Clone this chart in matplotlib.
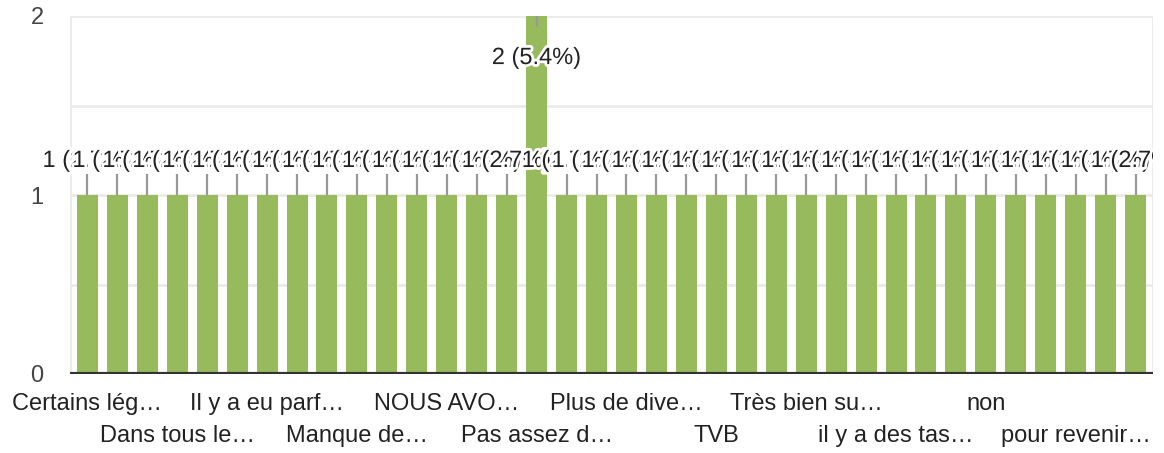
import matplotlib
matplotlib.use("Agg")
import matplotlib.pyplot as plt
import matplotlib.patheffects as pe
import numpy as np

plt.rcParams['font.family'] = ['Liberation Sans', 'DejaVu Sans']

# 36 answers (only every third label is readable in the reference)
categories = [
    "Certains lég…", "", "",
    "Dans tous le…", "", "",
    "Il y a eu parf…", "", "",
    "Manque de…", "", "",
    "NOUS AVO…", "", "",
    "Pas assez d…", "", "",
    "Plus de dive…", "", "",
    "TVB", "", "",
    "Très bien su…", "", "",
    "il y a des tas…", "", "",
    "non", "", "",
    "pour revenir…", "", "",
]
counts = [1] * 36
counts[15] = 2
yticks = [0, 1, 2]

total = sum(counts)
x = np.arange(len(counts))

fig = plt.figure(figsize=(11.64, 4.53), dpi=100)
ax = fig.add_axes([70/1164, 1 - 374/453, (1153-70)/1164, (374-16)/453])

bar_color = "#97BA5D"
ax.bar(x, counts, width=0.7, color=bar_color, zorder=2)

ax.set_xlim(-0.5 - 0.08, len(counts) - 0.5 + 0.08)
ax.set_ylim(0, 2)

# grid
for g in [0.5, 1, 1.5, 2]:
    ax.axhline(g, color="#ebebeb", lw=2, zorder=1)
ax.axvline(ax.get_xlim()[0], color="#ebebeb", lw=2, zorder=1)
ax.axvline(ax.get_xlim()[1], color="#ebebeb", lw=2, zorder=1)
ax.axhline(0, color="#333333", lw=3, zorder=4)

for s in ax.spines.values():
    s.set_visible(False)

ax.set_yticks(yticks)
ax.set_yticklabels([str(t) for t in yticks], fontsize=17, color="#444444")
ax.tick_params(axis='y', length=0, pad=19)
ax.set_xticks([])

# category labels (every third, alternating rows)
shown = [i for i, c in enumerate(categories) if c]
for k, i in enumerate(shown):
    row = k % 2
    ax.annotate(categories[i], xy=(x[i], 0), xycoords=('data', 'axes fraction'),
                xytext=(0, -30 - row * 32), textcoords='offset pixels',
                ha='center', va='center', fontsize=17, color="#222222",
                annotation_clip=False)

# value labels with leader lines
halo = [pe.withStroke(linewidth=4, foreground="white")]
clip_box = matplotlib.transforms.Bbox([[0, 0], [1153, 453]])
for i, v in enumerate(counts):
    pct = v / total * 100
    txt = f"{v} ({pct:.1f}%)"
    if v == max(counts):
        ax.plot([x[i], x[i]], [v, v - 0.06], color="#999999", lw=1.6, zorder=3,
                solid_capstyle='butt')
        ax.text(x[i], v - 0.235, txt, ha='center', va='center', fontsize=17,
                color="#222222", zorder=6, path_effects=halo)
    else:
        ax.plot([x[i], x[i]], [v, v + 0.12], color="#999999", lw=1.6, zorder=3,
                solid_capstyle='butt')
        t = ax.text(x[i], v + 0.19, txt, ha='center', va='center', fontsize=17,
                    color="#222222", zorder=5, path_effects=halo)
        t.set_clip_on(True)
        t.set_clip_box(clip_box)

fig.savefig("out.png", dpi=100, facecolor="white")
